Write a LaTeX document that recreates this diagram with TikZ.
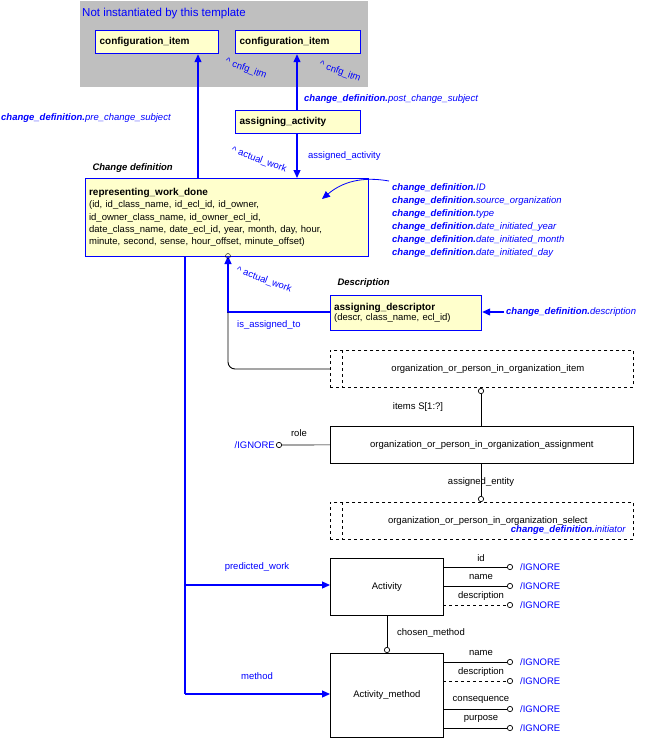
\documentclass[tikz,border=0pt]{standalone}
\usepackage{fontspec}
\setmainfont{Liberation Sans}
\usetikzlibrary{positioning, arrows.meta}
\definecolor{ent}{RGB}{255,255,204}
\definecolor{bl}{RGB}{0,0,255}
\tikzset{
  ent/.style={draw=bl, line width=1.2pt, fill=ent, inner sep=3pt, anchor=north west, align=left, font=\fontsize{10}{12}\selectfont\bfseries},
  box/.style={draw, line width=0.7pt, minimum height=37pt},
  lbl/.style={text=bl, font=\fontsize{9.5}{11}\selectfont, inner sep=1pt},
  blk/.style={font=\fontsize{9.5}{11}\selectfont, inner sep=1pt},
  ref/.style={draw=bl, line width=1.2pt, -{Triangle[length=8pt,width=7pt]}},
  ign/.style={draw, line width=0.7pt, -{Circle[open,length=6pt,width=6pt]}},
  dp/.style={font=\fontsize{9.5}{11}\selectfont\bfseries\itshape}
}
\begin{document}
\begin{tikzpicture}[x=1pt, y=-1pt, font=\fontsize{9.5}{11}\selectfont]
  \useasboundingbox (0,0) rectangle (652,739);
  % not instantiated
  \fill[black!25] (80,1) rectangle (368,87);
  \node[lbl, anchor=west, font=\fontsize{11.5}{13}\selectfont] at (81,14) {Not instantiated by this template};
  \node[ent, minimum width=123pt, minimum height=23pt, text width=115pt] (ci1) at (95,30) {configuration\_item};
  \node[ent, minimum width=125pt, minimum height=23pt, text width=117pt] (ci2) at (235,30) {configuration\_item};
  \node[ent, minimum width=125pt, minimum height=23pt, text width=117pt] (aa) at (235,110) {assigning\_activity};

  % representing_work_done
  \node[dp, anchor=west] at (89,168) {Change definition};
  \node[ent, minimum width=283pt, minimum height=78pt, text width=276pt] (rwd) at (85,178)
    {representing\_work\_done\\[-1pt]
     {\mdseries\fontsize{9.5}{12.8}\selectfont (id, id\_class\_name, id\_ecl\_id, id\_owner,\\
     id\_owner\_class\_name, id\_owner\_ecl\_id,\\
     date\_class\_name, date\_ecl\_id, year, month, day, hour,\\
     minute, second, sense, hour\_offset, minute\_offset)}};

  \coordinate (c1) at (198,178);
  \draw[ref] (c1) -- (c1 |- ci1.south);
  \node[lbl, rotate=-20] at (246,69) {\^{} cnfg\_itm};
  \node[lbl, anchor=west] at (0,118) {\textbf{\textit{change\_definition.}}\textit{pre\_change\_subject}};

  \draw[ref] (aa.north -| 297,0) -- (ci2.south -| 297,0);
  \node[lbl, rotate=-20] at (340,72) {\^{} cnfg\_itm};
  \node[lbl, anchor=west] at (303,99) {\textbf{\textit{change\_definition.}}\textit{post\_change\_subject}};

  \draw[ref] (aa.south -| 297,0) -- (rwd.north -| 297,0);
  \node[lbl, anchor=west] at (307,156) {assigned\_activity};
  \node[lbl, rotate=-20] at (259,160) {\^{} actual\_work};

  \foreach \t [count=\i] in {ID, source\_organization, type, date\_initiated\_year, date\_initiated\_month, date\_initiated\_day}
    \node[lbl, anchor=west] at (391,175+13*\i) {\textbf{\textit{change\_definition.}}\textit{\t}};
  \coordinate (cd) at (389,181);
  \draw[draw=bl, line width=0.8pt, -{Triangle[length=8pt,width=7pt]}] (cd) to[out=170, in=40] (322,199);

  % assigning_descriptor
  \node[dp, anchor=west] at (334,283) {Description};
  \node[ent, minimum width=151pt, minimum height=35pt, text width=144pt] (ad) at (330,295)
    {assigning\_descriptor\\[-2pt]{\mdseries\fontsize{9.5}{11}\selectfont (descr, class\_name, ecl\_id)}};
  \coordinate (dsc) at (504,312);
  \node[lbl, anchor=west] at (505,312) {\textbf{\textit{change\_definition.}}\textit{description}};
  \draw[ref] (dsc) -- (ad.east |- dsc);
  \draw[ref] (ad.west |- dsc) -- (228,312) -- (228,256);
  \draw (228,256) circle (2.5pt);
  \node[lbl, rotate=-20] at (264,280) {\^{} actual\_work};
  \node[lbl, anchor=west] at (236,325) {is\_assigned\_to};

  % org boxes
  \node[box, dashed, minimum width=303pt, anchor=north west] (oi) at (330,350) {\hspace{12pt}organization\_or\_person\_in\_organization\_item};
  \draw[dashed] (342,350) -- (342,388);
  \draw[line width=0.9pt] (228,312) -- (228,362) arc (180:90:7) -- (oi.west |- 0,369);
  \node[box, minimum width=303pt, anchor=north west] (oa) at (330,426) {organization\_or\_person\_in\_organization\_assignment};
  \draw[ign] (481,426) -- (481,388);
  \node[blk] at (418,407) {items S[1:?]};
  \coordinate (rl) at (276,445);
  \draw[ign] (oa.west) -- (rl);
  \node[blk] at (299,433) {role};
  \node[lbl, anchor=east] at (rl.west) {/IGNORE};
  \node[box, dashed, minimum width=303pt, anchor=north west] (os) at (330,502) {\hspace{12pt}organization\_or\_person\_in\_organization\_select};
  \draw[dashed] (342,502) -- (342,540);
  \draw[ign] (481,463) -- (481,502);
  \node[blk] at (481,482) {assigned\_entity};
  \node[lbl, anchor=east] at (627,530) {\textbf{\textit{change\_definition.}}\textit{initiator}};

  % activity
  \node[box, minimum width=113pt, minimum height=57pt, anchor=north west] (ac) at (330,558) {Activity};
  \node[box, minimum width=113pt, minimum height=84pt, anchor=north west] (am) at (330,653) {Activity\_method};
  \draw[ign] (387,615) -- (387,653);
  \node[blk, anchor=west] at (396,633) {chosen\_method};
  \foreach \y/\n/\s in {567/id/solid, 586/name/solid, 605/description/dashed, 662/name/solid, 681/description/dashed, 709/consequence/solid, 728/purpose/solid} {
    \draw[ign, \s] (443,\y) -- (513,\y);
    \node[blk] at (481,\y-9) {\n};
    \node[lbl, anchor=west] at (519,\y) {/IGNORE};
  }

  \draw[draw=bl, line width=1.2pt] (185,256) -- (185,694);
  \draw[ref] (185,585) -- (ac.west |- 0,585);
  \draw[ref] (185,694) -- (am.west |- 0,694);
  \node[lbl] at (257,567) {predicted\_work};
  \node[lbl] at (257,676) {method};
\end{tikzpicture}
\end{document}
